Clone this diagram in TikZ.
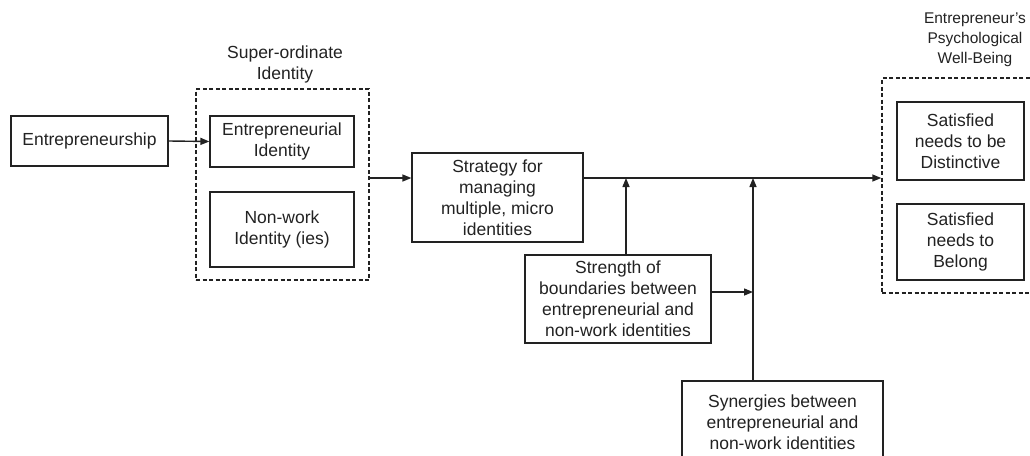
\documentclass[tikz,border=0pt]{standalone}
\usepackage{fontspec}
\setmainfont{Liberation Sans}
\usetikzlibrary{arrows.meta}
\definecolor{ink}{HTML}{222222}
\tikzset{
  box/.style={draw=ink, line width=1.2pt, align=center, inner sep=0pt,
    text=ink, font=\fontsize{17.5}{21}\selectfont},
  group/.style={draw=ink, line width=1.4pt, dash pattern=on 4pt off 2.5pt, inner sep=0pt},
  caption/.style={align=center, inner sep=0pt, text=ink, font=\fontsize{17.5}{21}\selectfont},
  smallcaption/.style={caption, font=\fontsize{15.5}{20}\selectfont},
  arr/.style={draw=ink, line width=1.4pt, -{Triangle[length=9pt,width=7pt]}},
  link/.style={draw=ink, line width=1.4pt}
}
\begin{document}
\begin{tikzpicture}[x=1pt,y=-1pt]
\useasboundingbox (0,0) rectangle (1030,455);
\clip (0,0) rectangle (1030,455);

% grouping frames
\node[group, minimum width=173pt, minimum height=191pt] (super) at (282.5,184.5) {};
\node[group, minimum width=158pt, minimum height=215pt] (wb) at (961,185.5) {};
\node[caption] (superlbl) at (285,64) {Super-ordinate\\Identity};
\node[smallcaption] (wblbl) at (975,40) {Entrepreneur\char"0027 s\\Psychological\\Well-Being};

% boxes
\node[box, minimum width=157pt, minimum height=50pt] (ent) at (89.5,141) {Entrepreneurship};
\node[box, minimum width=144pt, minimum height=51pt] (eid) at (282,141.5) {Entrepreneurial\\Identity};
\node[box, minimum width=144pt, minimum height=75pt] (nid) at (282,229.5) {Non-work\\Identity (ies)};
\node[box, minimum width=171pt, minimum height=89pt] (strat) at (497.5,197.5) {Strategy for\\managing\\multiple, micro\\identities};
\node[box, minimum width=186pt, minimum height=88pt] (str) at (618,299) {Strength of\\boundaries between\\entrepreneurial and\\non-work identities};
\node[box, minimum width=201pt, minimum height=82pt] (syn) at (782.5,422) {Synergies between\\entrepreneurial and\\non-work identities};
\node[box, minimum width=127pt, minimum height=78pt] (dist) at (960.5,141) {Satisfied\\needs to be\\Distinctive};
\node[box, minimum width=127pt, minimum height=76pt] (bel) at (960.5,242) {Satisfied\\needs to\\Belong};

% junction points on the main line
\coordinate (mainy) at (0,178);
\coordinate (j1) at (626,178);
\coordinate (j2) at (753,178);
\coordinate (k) at (753,292);

% connectors
\draw[arr] (ent.east) -- (eid.west);
\draw[arr] (super.east |- mainy) -- (strat.west |- mainy);
\draw[arr] (strat.east |- mainy) -- (wb.west |- mainy);
\draw[arr] (str.north -| j1) -- (j1);
\draw[arr] (syn.north -| j2) -- (j2);
\draw[arr] (str.east |- k) -- (k);
\end{tikzpicture}
\end{document}
